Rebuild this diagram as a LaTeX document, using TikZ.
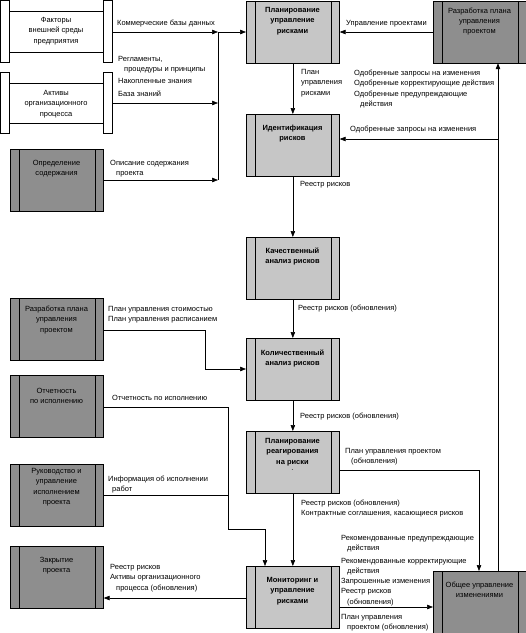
\documentclass[tikz,border=0pt]{standalone}
\usepackage{fontspec}
\setmainfont{Liberation Sans}
\usetikzlibrary{arrows.meta}
\definecolor{lgray}{RGB}{198,198,198}
\definecolor{dgray}{RGB}{142,142,142}
\tikzset{
  proc/.style={draw, line width=0.7pt, minimum width=93pt, minimum height=62pt, inner sep=0pt, anchor=north west,
    path picture={
      \draw[line width=0.6pt] ([xshift=8.5pt]path picture bounding box.north west) -- ([xshift=8.5pt]path picture bounding box.south west);
      \draw[line width=0.6pt] ([xshift=-8.5pt]path picture bounding box.north east) -- ([xshift=-8.5pt]path picture bounding box.south east);}},
  light/.style={proc, fill=lgray},
  dark/.style={proc, fill=dgray},
  btxt/.style={font=\fontsize{7.5}{10.4}\selectfont\bfseries, align=center, anchor=base, inner sep=0pt},
  dtxt/.style={font=\fontsize{7.5}{10.4}\selectfont, align=center, anchor=base, inner sep=0pt},
  lbl/.style={font=\fontsize{7.5}{10.4}\selectfont, align=left, anchor=base west, inner sep=0pt},
  bar/.style={draw, fill=white, line width=0.7pt, minimum width=9pt, inner sep=0pt},
  ln/.style={line width=0.6pt},
  arr/.style={ln, -{Triangle[length=6pt,width=4.5pt]}}
}
\begin{document}
\begin{tikzpicture}[x=1pt,y=-1pt]
\useasboundingbox (0,0) rectangle (526,633);
% scroll-like sources
\node[bar, minimum height=61.5pt] (extL) at (5,31.5) {};
\node[bar, minimum height=61.5pt] (extR) at (107.5,31.5) {};
\draw[ln] (9.5,11) -- (103,11);
\draw[ln] (9.5,52) -- (103,52);
\node[dtxt] (ext) at (56,43.3) {Факторы\\внешней среды\\предприятия};
\node[bar, minimum height=61pt] (actL) at (5,102.5) {};
\node[bar, minimum height=61pt] (actR) at (107.5,102.5) {};
\draw[ln] (9.5,83) -- (103,83);
\draw[ln] (9.5,123) -- (103,123);
\node[dtxt] (act) at (56,116.3) {Активы\\организационного\\процесса};
% central process boxes
\node[light] (plan) at (246,0.5) {};
\node[btxt] (plan-t) at (292.5,33.3) {Планирование\\управление\\рисками};
\node[light] (ident) at (246,114) {};
\node[btxt] (ident-t) at (292.5,140.9) {Идентификация\\рисков};
\node[light] (qual) at (246,237) {};
\node[btxt] (qual-t) at (292.5,263.9) {Качественный\\анализ рисков};
\node[light] (quant) at (246,338) {};
\node[btxt] (quant-t) at (292.5,365.9) {Количественный\\анализ рисков};
\node[light] (resp) at (246,431) {};
\node[btxt] (resp-t) at (292.5,470.7) {Планирование\\реагирования\\на риски\\[-4pt]{\mdseries.}};
\node[light] (mon) at (246,566) {};
\node[btxt] (mon-t) at (292.5,603.3) {Мониторинг и\\управление\\рисками};
% dark boxes
\node[dark] (devplan) at (433,0.5) {};
\node[dtxt] (devplan-t) at (479.5,33.8) {Разработка плана\\управления\\проектом};
\node[dark] (change) at (433,571) {};
\node[dtxt] (change-t) at (479.5,597.9) {Общее управление\\изменениями};
\node[dark] (scope) at (10,149) {};
\node[dtxt] (scope-t) at (56.5,175.9) {Определение\\содержания};
\node[dark] (devplanL) at (10,298) {};
\node[dtxt] (devplanL-t) at (56.5,332.3) {Разработка плана\\управления\\проектом};
\node[dark] (perf) at (10,375) {};
\node[dtxt] (perf-t) at (56.5,403.9) {Отчетность\\по исполнению};
\node[dark] (direct) at (10,464) {};
\node[dtxt] (direct-t) at (56.5,504.7) {Руководство и\\управление\\исполнением\\проекта};
\node[dark] (close) at (10,546) {};
\node[dtxt] (close-t) at (56.5,572.9) {Закрытие\\проекта};
% bus on the left
\coordinate (b1) at (218,32);
\coordinate (b2) at (218,103);
\coordinate (b3) at (218,180);
\draw[arr] (extR.east |- b1) -- (b1);
\draw[arr] (actR.east |- b2) -- (b2);
\draw[arr] (scope.east |- b3) -- (b3);
\draw[ln] (b1) -- (b3);
\draw[arr] (b1) -- (b1 -| plan.west);
\draw[arr] (devplan.west |- b1) -- (b1 -| plan.east);
% central chain
\draw[arr] (plan) -- (ident);
\draw[arr] (ident) -- (qual);
\draw[arr] (qual) -- (quant);
\draw[arr] (quant) -- (resp);
\draw[arr] (resp) -- (mon);
% right feedback
\coordinate (r1) at (498,139);
\draw[arr] (change.north -| r1) -- (devplan.south -| r1);
\draw[arr] (r1) -- (r1 -| ident.east);
% left inputs
\coordinate (d1) at (205,330);
\coordinate (d2) at (205,369);
\draw[arr] (devplanL.east |- d1) -- (d1) -- (d2) -- (d2 -| quant.west);
\coordinate (p1) at (228,407);
\coordinate (p2) at (228,529);
\coordinate (p3) at (265,529);
\coordinate (p4) at (228,495);
\draw[arr] (perf.east |- p1) -- (p1) -- (p2) -- (p3) -- (p3 |- mon.north);
\draw[ln] (direct.east |- p4) -- (p4);
% outputs
\coordinate (q1) at (479,470);
\draw[arr] (resp.east |- q1) -- (q1) -- (q1 |- change.north);
\coordinate (m1) at (400,607);
\draw[arr] (mon.east |- m1) -- (m1 -| change.west);
\coordinate (m2) at (200,598);
\draw[arr] (mon.west |- m2) -- (m2 -| close.east);
% labels
\node[lbl] (l1) at (117,25.5) {Коммерческие базы данных};
\node[lbl] (l2) at (118,71.9) {Регламенты,\\\hspace*{6pt}процедуры и принципы};
\node[lbl] (l3) at (118,83.5) {Накопленные знания};
\node[lbl] (l4) at (118,96.5) {База знаний};
\node[lbl] (l5) at (110,175.9) {Описание содержания\\\hspace*{6pt}проекта};
\node[lbl] (l6) at (346,25.5) {Управление проектами};
\node[lbl] (l7) at (301,95.3) {План\\управления\\рисками};
\node[lbl] (l8) at (354,106.7) {Одобренные запросы на изменения\\Одобренные корректирующие действия\\Одобренные предупреждающие\\\hspace*{6pt}действия};
\node[lbl] (l9) at (350,131.5) {Одобренные запросы на изменения};
\node[lbl] (l10) at (300,186.5) {Реестр рисков};
\node[lbl] (l11) at (298,310.5) {Реестр рисков (обновления)};
\node[lbl] (l12) at (108,321.9) {План управления стоимостью\\План управления расписанием};
\node[lbl] (l13) at (300,418.5) {Реестр рисков (обновления)};
\node[lbl] (l14) at (112,400.5) {Отчетность по исполнению};
\node[lbl] (l15) at (345,463.9) {План управления проектом\\\hspace*{6pt}(обновления)};
\node[lbl] (l16) at (108,491.9) {Информация об исполнении\\\hspace*{4pt}работ};
\node[lbl] (l17) at (301,515.9) {Реестр рисков (обновления)\\Контрактные соглашения, касающиеся рисков};
\node[lbl] (l18) at (341,550.9) {Рекомендованные предупреждающие\\\hspace*{6pt}действия};
\node[lbl] (l19) at (341,573.9) {Рекомендованные корректирующие\\\hspace*{6pt}действия};
\node[lbl] (l20) at (341,604.3) {Запрошенные изменения\\Реестр рисков\\\hspace*{6pt}(обновления)};
\node[lbl] (l21) at (341,629.9) {План управления\\\hspace*{6pt}проектом (обновления)};
\node[lbl] (l22) at (110,590.3) {Реестр рисков\\Активы организационного\\\hspace*{6pt}процесса (обновления)};
\end{tikzpicture}
\end{document}
